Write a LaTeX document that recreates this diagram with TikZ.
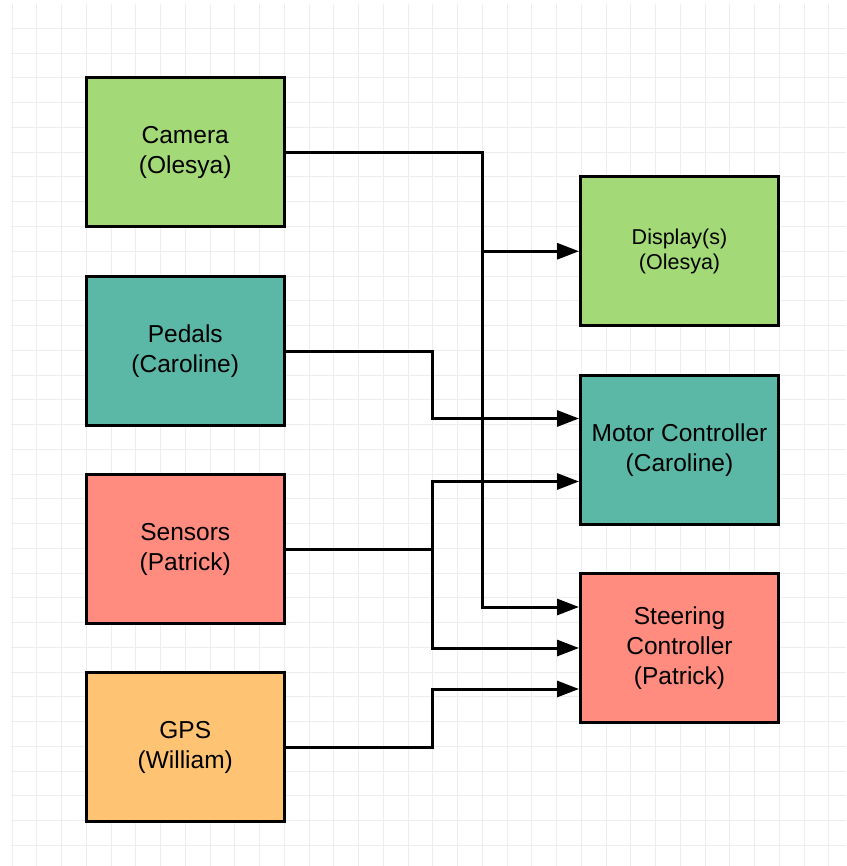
\documentclass[tikz,border=0pt]{standalone}
\usepackage{fontspec}
\setmainfont{Liberation Sans}
\usetikzlibrary{arrows.meta}
\definecolor{camgreen}{HTML}{A3D977}
\definecolor{pedteal}{HTML}{5BB8A6}
\definecolor{senred}{HTML}{FF8C7F}
\definecolor{gpsorange}{HTML}{FFC374}
\definecolor{gridgray}{HTML}{EDEDED}
\newcommand\boxfont{\fontsize{24.5}{30}\selectfont}
\newcommand\smallboxfont{\fontsize{21.5}{25}\selectfont}
\begin{document}
\begin{tikzpicture}[x=1pt, y=-1pt,
  gridline/.style={gridgray, line width=1pt},
  unit/.style={draw, line width=3pt, minimum width=198pt, minimum height=148.5pt,
               align=center, font=\boxfont, inner sep=0pt},
  wire/.style={line width=3pt, -{Triangle[length=22pt, width=16pt]}}]
\useasboundingbox (0,0) rectangle (846,866);
% background grid
\foreach \i in {0,...,33}
  \draw[gridline] ({12+\i*24.75},4) -- ({12+\i*24.75},866);
\foreach \j in {1,...,34}
  \draw[gridline] (11,{3.75+\j*24.75}) -- (846,{3.75+\j*24.75});
% sources
\node[unit, fill=camgreen]  (camera)  at (185.25,152.25) {Camera\\(Olesya)};
\node[unit, fill=pedteal]   (pedals)  at (185.25,351)    {Pedals\\(Caroline)};
\node[unit, fill=senred]    (sensors) at (185.25,549)    {Sensors\\(Patrick)};
\node[unit, fill=gpsorange] (gps)     at (185.25,747)    {GPS\\(William)};
% sinks
\node[unit, fill=camgreen, font=\smallboxfont] (display) at (679.5,251.25) {Display(s)\\(Olesya)};
\node[unit, fill=pedteal]  (motor)    at (679.5,450)    {Motor Controller\\(Caroline)};
\node[unit, fill=senred]   (steering) at (679.5,648)    {Steering\\Controller\\(Patrick)};
\coordinate (splitA) at (482.25,0);
\coordinate (splitB) at (432.75,0);
% connectors
\draw[wire] (camera.east) -- (camera.east -| splitA) |- ([yshift=41pt]steering.west);
\draw[wire] (camera.east -| splitA) |- (display.west);
\draw[wire] (pedals.east) -- (pedals.east -| splitB) |- ([yshift=31.5pt]motor.west);
\draw[wire] (sensors.east) -- (sensors.east -| splitB) |- ([yshift=-31.5pt]motor.west);
\draw[wire] (sensors.east -| splitB) |- (steering.west);
\draw[wire] (gps.east) -- (gps.east -| splitB) |- ([yshift=-41pt]steering.west);
\end{tikzpicture}
\end{document}
